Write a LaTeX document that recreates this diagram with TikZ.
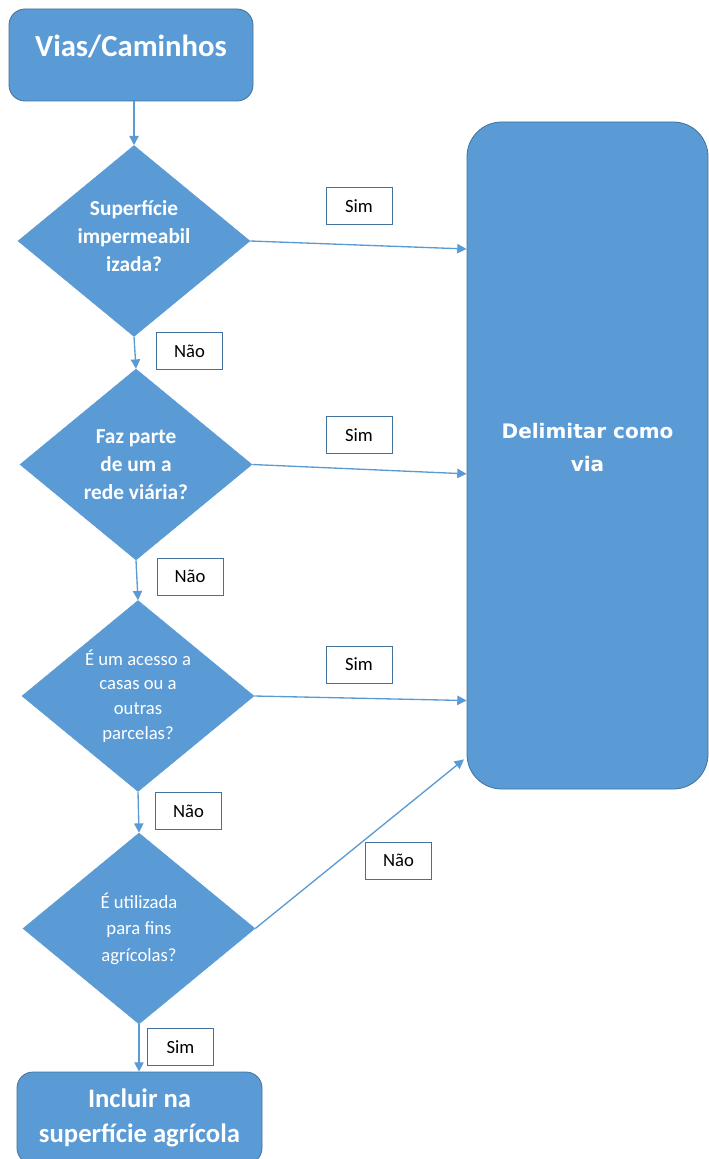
\documentclass[tikz,border=0pt]{standalone}
\usepackage{fontspec}
\setmainfont{Carlito}
\newfontfamily\wideface{DejaVu Sans}
\usetikzlibrary{shapes.geometric,arrows.meta}
\definecolor{flowblue}{HTML}{5B9BD5}
\definecolor{flowedge}{HTML}{41719C}

\begin{document}
\begin{tikzpicture}[
		x=0.75pt, y=-0.75pt,
		every node/.style={align=center, inner sep=0pt},
		block/.style={rectangle, rounded corners=12pt, fill=flowblue, draw=flowedge, line width=0.6pt, text=white},
		decision/.style={diamond, aspect=1.215, fill=flowblue, draw=flowblue, text=white, minimum width=174pt, minimum height=143.25pt, inner sep=-8pt},
		answer/.style={rectangle, draw=flowedge, fill=white, line width=0.6pt, minimum width=49.5pt, minimum height=27.75pt, font=\fontsize{14}{16}\selectfont},
		flow/.style={draw=flowblue, line width=1pt, -{Triangle[length=7pt,width=7pt]}}
	]
  \useasboundingbox (0,0) rectangle (709,1159);
  \clip (0,0) rectangle (709,1159);
  \node (start) [block, minimum width=183pt, minimum height=69pt, text height=16pt, text depth=14pt,
    font=\fontsize{23}{27}\selectfont\bfseries] at (131,55) {Vias/Caminhos};
  \node (d1) [decision, text depth=7.5pt, font=\fontsize{16}{21}\selectfont\bfseries] at (134,241) {Superfície\\impermeabil\\izada?};
  \node (d2) [decision, font=\fontsize{16}{21}\selectfont\bfseries] at (136,464.5) {Faz parte\\de um a\\rede viária?};
  \node (d3) [decision, font=\fontsize{14}{18.5}\selectfont] at (138,696) {É um acesso a\\casas ou a\\outras\\parcelas?};
  \node (d4) [decision, font=\fontsize{14}{20}\selectfont] at (139,928.5) {É utilizada\\para fins\\agrícolas?};
  \node (delim) [block, rounded corners=26pt, minimum width=180.75pt, minimum height=500.25pt, text depth=11.5pt,
    font=\wideface\fontsize{15}{24.75}\selectfont\bfseries] at (587.5,455.5) {Delimitar como\\via};
  \node (agric) [block, minimum width=183.75pt, minimum height=69pt,
    font=\fontsize{20}{26}\selectfont\bfseries] at (139.5,1118) {Incluir na\\superfície agrícola};
  % answer labels
  \node (s1) [answer] at (359,206) {Sim};
  \node (s2) [answer] at (359,435) {Sim};
  \node (s3) [answer] at (359,664.5) {Sim};
  \node (s4) [answer] at (180.5,1047) {Sim};
  \node (n1) [answer] at (189.5,351) {Não};
  \node (n2) [answer] at (190,576.5) {Não};
  \node (n3) [answer] at (188.5,811) {Não};
  \node (n4) [answer] at (398.5,860.5) {Não};
  % connectors
  \draw[flow] (start.south -| d1.north) -- (d1.north);
  \draw[flow] (d1.south) -- (d2.north);
  \draw[flow] (d2.south) -- (d3.north);
  \draw[flow] (d3.south) -- (d4.north);
  \draw[flow] (d4.south) -- (d4.south |- agric.north);
  \draw[flow] (d1.east) -- ([yshift=-6pt]d1.east -| delim.west);
  \draw[flow] (d2.east) -- ([yshift=-7pt]d2.east -| delim.west);
  \draw[flow] (d3.east) -- ([yshift=-3.4pt]d3.east -| delim.west);
  \draw[flow] (d4.east) -- ([xshift=-2pt, yshift=22.5pt]delim.south west);
\end{tikzpicture}
\end{document}
